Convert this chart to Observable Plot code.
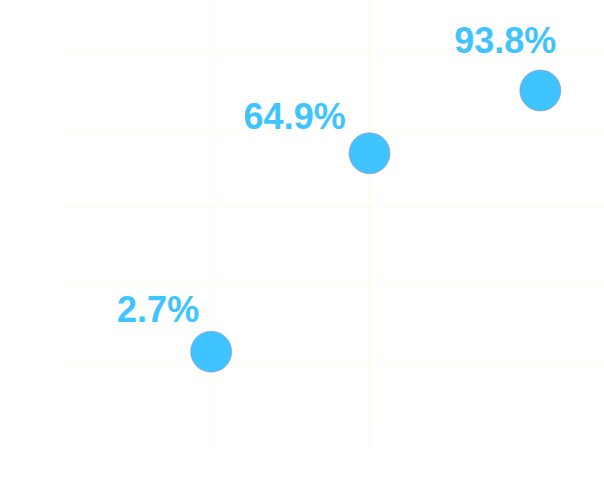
<!DOCTYPE html>
<html>
<head>
<meta charset="utf-8">
<script src="https://cdn.jsdelivr.net/npm/d3@7"></script>
<script src="https://cdn.jsdelivr.net/npm/@observablehq/plot@0.6"></script>
<style>
  html, body { margin: 0; padding: 0; background: #ffffff; }
  #chart svg { display: block; }
</style>
</head>
<body>
<div id="chart"></div>
<script>
// Data
const labels = ["2.7%", "64.9%", "93.8%"];
const values = [2.7, 64.9, 93.8];
const xPos = [19.7, 40, 61.9];
const yPos = [11.4, 37.0, 45.1];
const labelX = [12.9, 30.4, 57.4];
const labelY = [15.2, 40.1, 49.9];
const xTicks = [20, 40];
const yTicks = [10, 20, 30, 40, 50];

const data = labels.map((l, i) => ({
  label: l, value: values[i], x: xPos[i], y: yPos[i], lx: labelX[i], ly: labelY[i]
}));

const chart = Plot.plot({
  width: 604,
  height: 493,
  marginLeft: 64,
  marginRight: 0,
  marginTop: 0,
  marginBottom: 46,
  style: { background: "#ffffff", fontFamily: "'Liberation Sans', Arial, sans-serif" },
  x: { domain: [0, 70], range: [57, 603], axis: null },
  y: { domain: [0, 56.71], range: [439.5, 0], axis: null },
  marks: [
    Plot.gridY(yTicks, { stroke: "#fffbe8", strokeOpacity: 1 }),
    Plot.gridX(xTicks, { stroke: "#fefbe0", strokeOpacity: 1 }),
    Plot.dot(data, { x: "x", y: "y", r: 20.5, fill: "#40c4ff", stroke: "#9a8cc4", strokeWidth: 0.6 }),
    Plot.text(data, {
      x: "lx", y: "ly", text: "label",
      fill: "#40c4ff", fontSize: 36, fontWeight: "bold",
      textAnchor: "middle", lineAnchor: "bottom"
    })
  ]
});
document.getElementById("chart").appendChild(chart);
</script>
</body>
</html>
